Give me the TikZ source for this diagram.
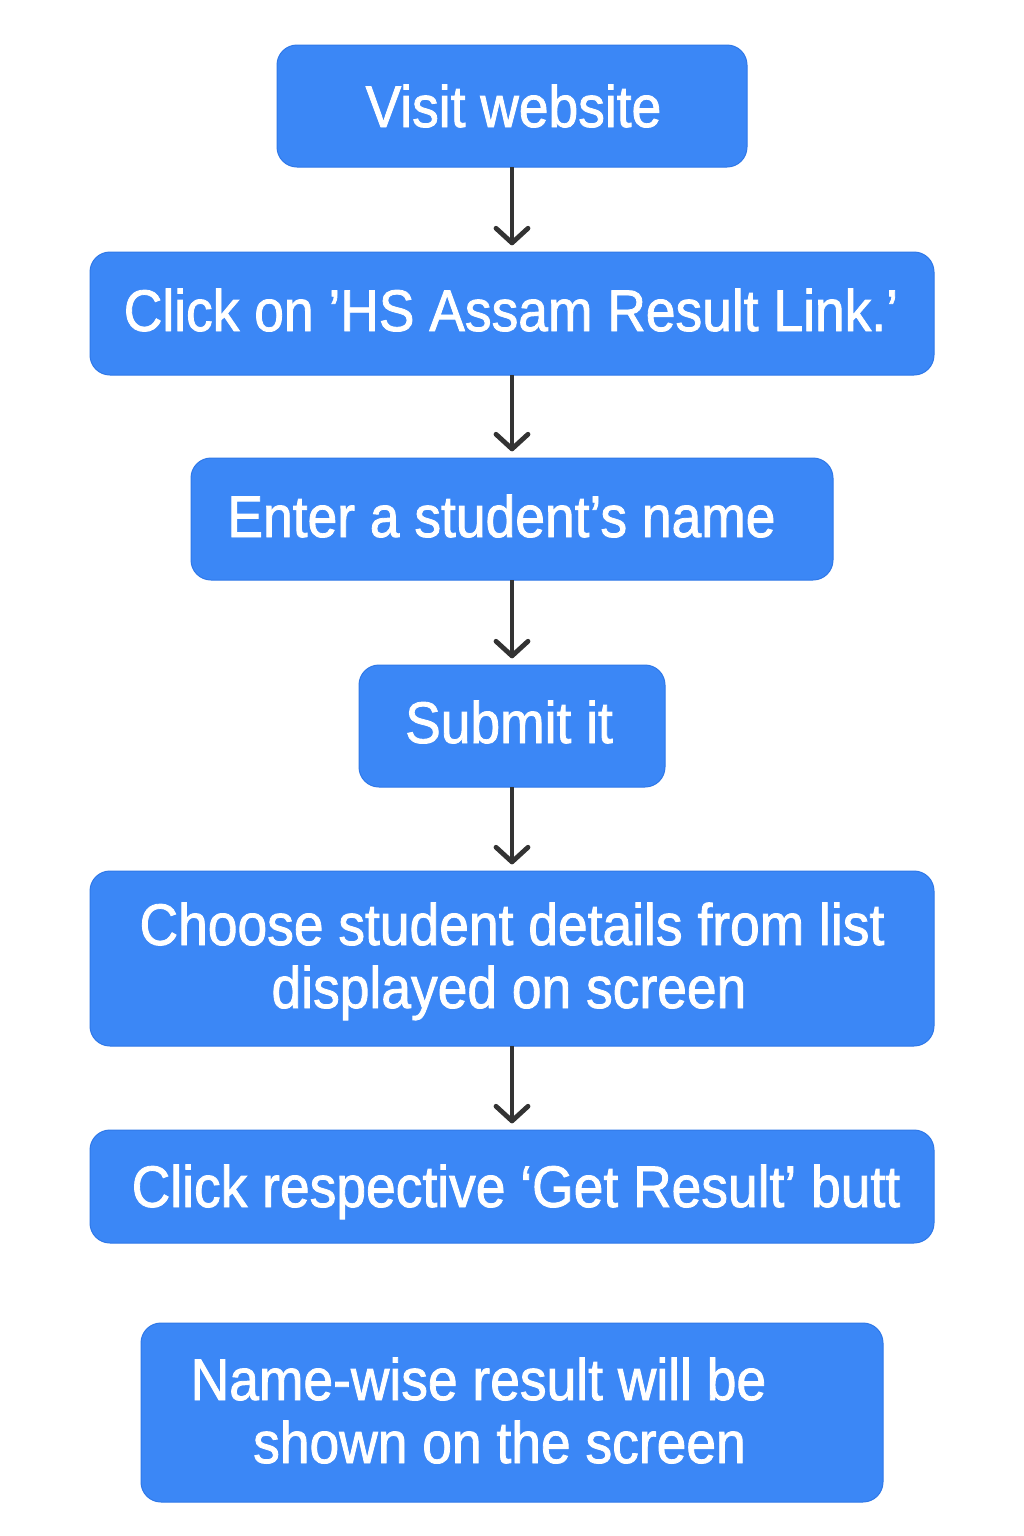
\documentclass[tikz,border=0pt]{standalone}
\usepackage{fontspec}
\setmainfont{Liberation Sans}[FakeStretch=0.91,FakeBold=1.4]
\usetikzlibrary{arrows.meta}
\definecolor{boxblue}{HTML}{3B87F6}
\definecolor{boxedge}{HTML}{2F78E8}
\definecolor{arrowgray}{HTML}{333333}
\tikzset{
  flowbox/.style={draw=boxedge, line width=0.75pt, fill=boxblue, rounded corners=15pt,
    inner sep=0pt, outer sep=0pt},
  boxtext/.style={text=white, font=\fontsize{44}{52}\selectfont, anchor=base, inner sep=0pt},
  flowarrow/.style={draw=arrowgray, line width=3.6pt,
    -{Straight Barb[length=11pt,width=24pt,line width=3.6pt,round]}, shorten >=5pt},
}
\begin{document}
\begin{tikzpicture}[x=0.75pt,y=-0.75pt]
\fill[white] (0,0) rectangle (1024,1536);
\useasboundingbox (0,0) rectangle (1024,1536);
% boxes
\node[flowbox, minimum width=352.5pt, minimum height=91.5pt] (b1) at (512,106) {};
\node[flowbox, minimum width=633pt, minimum height=92.25pt] (b2) at (512,313.5) {};
\node[flowbox, minimum width=481.5pt, minimum height=91.5pt] (b3) at (512,519) {};
\node[flowbox, minimum width=229.5pt, minimum height=91.5pt] (b4) at (512,726) {};
\node[flowbox, minimum width=633pt, minimum height=131.25pt] (b5) at (512,958.5) {};
\node[flowbox, minimum width=633pt, minimum height=84.75pt] (b6) at (512,1186.5) {};
\node[flowbox, minimum width=556.5pt, minimum height=134.25pt] (b7) at (512,1412.5) {};
% texts
\node[boxtext] (t1) at (513.5,127) {Visit website};
\node[boxtext] (t2) at (511,331) {Click on ’HS Assam Result Link.’};
\node[boxtext] (t3) at (501.5,537) {Enter a student’s name};
\node[boxtext] (t4) at (509,743) {Submit it};
\node[boxtext] (t5a) at (512,945) {Choose student details from list};
\node[boxtext] (t5b) at (509,1008) {displayed on screen};
\node[boxtext] (t6) at (516,1207) {Click respective ‘Get Result’ butt};
\node[boxtext] (t7a) at (478.5,1400) {Name-wise result will be};
\node[boxtext] (t7b) at (499.5,1463) {shown on the screen};
% arrows
\draw[flowarrow] (b1.south) -- (b2.north);
\draw[flowarrow] (b2.south) -- (b3.north);
\draw[flowarrow] (b3.south) -- (b4.north);
\draw[flowarrow] (b4.south) -- (b5.north);
\draw[flowarrow] (b5.south) -- (b6.north);
\end{tikzpicture}
\end{document}
